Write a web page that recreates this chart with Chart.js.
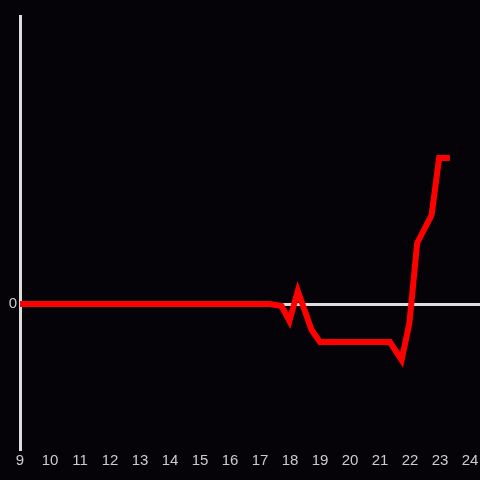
<!DOCTYPE html>
<html>
<head>
<meta charset="utf-8">
<script src="https://cdn.jsdelivr.net/npm/chart.js@4/dist/chart.umd.min.js"></script>
<style>
  html, body { margin: 0; padding: 0; background: #050308; }
  #wrap { width: 480px; height: 480px; }
</style>
</head>
<body>
<div id="wrap"><canvas id="chart" width="480" height="480"></canvas></div>
<script>
// Data (hour of day, value)
const hours = [9, 17.33, 17.72, 17.98, 18.26, 18.72, 19.0, 21.33, 21.72, 21.98, 22.24, 22.72, 22.97, 23.33];
const values = [0, 0, -0.2, -1.7, 1.3, -2.6, -3.8, -3.8, -5.6, -1.9, 6.1, 8.9, 14.6, 14.6];

// Tick labels
const xTicks = [9, 10, 11, 12, 13, 14, 15, 16, 17, 18, 19, 20, 21, 22, 23, 24];
const yTicks = [0];

const axisColor = '#dddddd';
const textColor = '#cccccc';
const font = { family: '"Liberation Sans", Arial, sans-serif', size: 15 };

const points = hours.map((h, i) => ({ x: h, y: values[i] }));

new Chart(document.getElementById('chart'), {
  type: 'line',
  data: {
    datasets: [{
      data: points,
      borderColor: '#ff0000',
      borderWidth: 6,
      pointRadius: 0,
      tension: 0,
      fill: false
    }]
  },
  options: {
    responsive: false,
    animation: false,
    layout: { padding: { top: 16, right: 0, left: 0, bottom: 0 } },
    plugins: { legend: { display: false }, tooltip: { enabled: false } },
    scales: {
      x: {
        type: 'linear',
        min: 9,
        max: 24.333,
        afterBuildTicks: scale => { scale.ticks = xTicks.map(v => ({ value: v })); },
        afterFit: scale => {
          scale.height = 31;
          scale.paddingLeft = 0;
          scale.paddingRight = 0;
        },
        grid: { display: false, drawTicks: false },
        border: { display: false },
        ticks: { color: textColor, font, padding: 3, maxRotation: 0, autoSkip: false }
      },
      y: {
        type: 'linear',
        min: -14.5,
        max: 28.8,
        afterBuildTicks: scale => { scale.ticks = yTicks.map(v => ({ value: v })); },
        afterFit: scale => {
          scale.width = 20;
          scale.paddingTop = 0;
          scale.paddingBottom = 0;
        },
        grid: {
          drawTicks: false,
          lineWidth: 3,
          color: ctx => (ctx.tick && ctx.tick.value === 0 ? axisColor : 'transparent')
        },
        border: { display: true, color: axisColor, width: 3 },
        ticks: { color: textColor, font, padding: 3 }
      }
    }
  }
});
</script>
</body>
</html>
